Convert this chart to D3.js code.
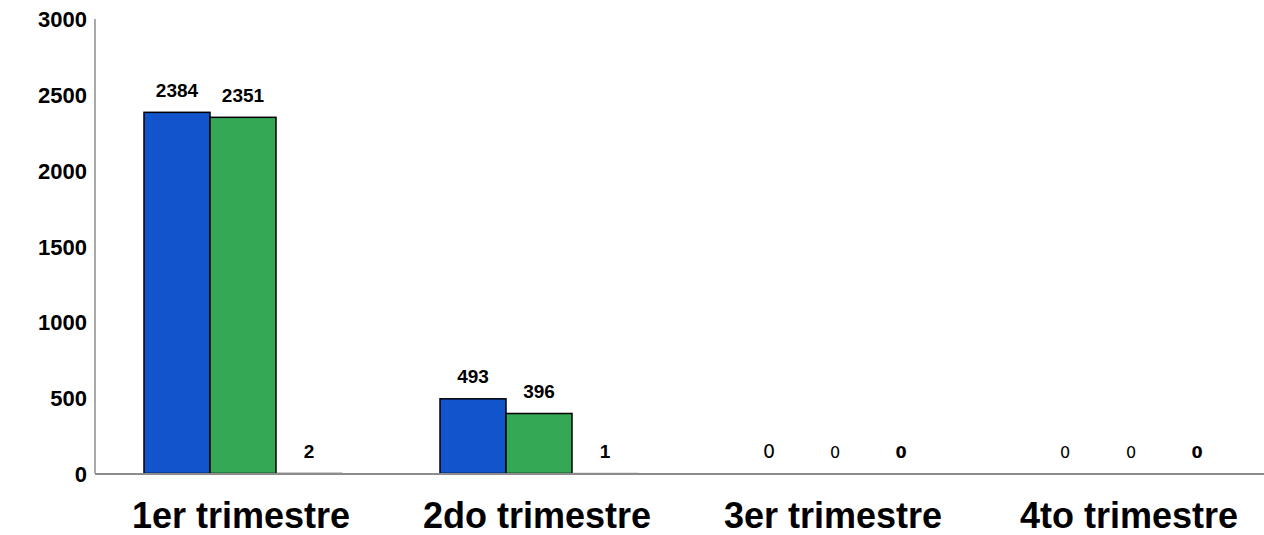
<!DOCTYPE html>
<html>
<head>
<meta charset="utf-8">
<script src="https://cdn.jsdelivr.net/npm/d3@7/dist/d3.min.js"></script>
<style>
  html, body { margin: 0; padding: 0; background: #fff; }
  svg { display: block; }
</style>
</head>
<body>
<svg id="chart" width="1264" height="535"></svg>
<script>
// Quarterly counts, three series per quarter
const categories = ["1er trimestre", "2do trimestre", "3er trimestre", "4to trimestre"];
const seriesNames = ["A", "B", "C"];
const seriesA = [2384, 493, 0, 0];
const seriesB = [2351, 396, 0, 0];
const seriesC = [2, 1, 0, 0];
const yTicks = [0, 500, 1000, 1500, 2000, 2500, 3000];

const seriesValues = [seriesA, seriesB, seriesC];
const colors = ["#1254cc", "#35a855", "#ffffff"];

const W = 1264;
const plotLeft = 95, plotTop = 19, baseline = 473.5;
const plotRight = 1279; // category bands run slightly past the window edge

const svg = d3.select("#chart");

const y = d3.scaleLinear().domain([0, 3000]).range([baseline, plotTop]);

const x0 = d3.scaleBand()
  .domain(categories)
  .range([plotLeft, plotRight])
  .paddingInner(98 / 296)
  .paddingOuter(49 / 296);

const x1 = d3.scaleBand()
  .domain(seriesNames)
  .range([0, x0.bandwidth()])
  .padding(0);

// Y axis: labels only, plus a thin grey spine
const yAxis = d3.axisLeft(y).tickValues(yTicks).tickSize(0).tickPadding(0).tickFormat(d3.format("d"));
const gy = svg.append("g").attr("transform", `translate(${plotLeft - 8},0)`).call(yAxis);
gy.select(".domain").remove();
gy.selectAll("text")
  .attr("font-family", "Liberation Sans, Arial, sans-serif")
  .attr("font-weight", "bold")
  .attr("font-size", 22)
  .attr("fill", "#000")
  .attr("dy", "0.36em");

svg.append("line")
  .attr("x1", plotLeft).attr("x2", plotLeft)
  .attr("y1", plotTop).attr("y2", baseline)
  .attr("stroke", "#8c8c8c").attr("stroke-width", 1.5);

// Bars
const rows = [];
categories.forEach((c, ci) => {
  seriesNames.forEach((s, si) => {
    rows.push({ cat: c, ci, series: s, si, value: seriesValues[si][ci] });
  });
});

svg.append("g").selectAll("rect")
  .data(rows.filter(d => d.value > 0))
  .join("rect")
  .attr("x", d => x0(d.cat) + x1(d.series))
  .attr("y", d => y(d.value))
  .attr("width", x1.bandwidth())
  .attr("height", d => baseline - y(d.value))
  .attr("fill", d => colors[d.si])
  .attr("stroke", d => d.si === 2 ? "#555" : "#000")
  .attr("stroke-width", d => d.si === 2 ? 1 : 1.5);

// X axis line
svg.append("line")
  .attr("x1", plotLeft).attr("x2", W)
  .attr("y1", baseline + 0.5).attr("y2", baseline + 0.5)
  .attr("stroke", "#8c8c8c").attr("stroke-width", 2);

// Category labels
const xAxis = d3.axisBottom(x0).tickSize(0).tickPadding(0);
const gx = svg.append("g").attr("transform", `translate(0,${baseline})`).call(xAxis);
gx.select(".domain").remove();
gx.selectAll("text")
  .attr("font-family", "Liberation Sans, Arial, sans-serif")
  .attr("font-weight", "bold")
  .attr("font-size", 36)
  .attr("fill", "#000")
  .attr("dy", 0)
  .attr("y", 54)
  .attr("dx", -2);

// Value labels
function labelStyle(d) {
  if (d.ci < 2) return { family: "Liberation Sans, Arial, sans-serif", weight: "bold", size: 19 };
  if (d.si === 2) return { family: "DejaVu Sans, sans-serif", weight: "bold", size: 16 };
  if (d.ci === 2 && d.si === 0) return { family: "DejaVu Sans, sans-serif", weight: "normal", size: 19 };
  return { family: "DejaVu Sans, sans-serif", weight: "normal", size: 16 };
}

svg.append("g").selectAll("text")
  .data(rows)
  .join("text")
  .attr("x", d => x0(d.cat) + x1(d.series) + x1.bandwidth() / 2)
  .attr("y", d => y(d.value) - 15.5)
  .attr("text-anchor", "middle")
  .attr("font-family", d => labelStyle(d).family)
  .attr("font-weight", d => labelStyle(d).weight)
  .attr("font-size", d => labelStyle(d).size)
  .attr("fill", "#000")
  .text(d => d.value);
</script>
</body>
</html>
